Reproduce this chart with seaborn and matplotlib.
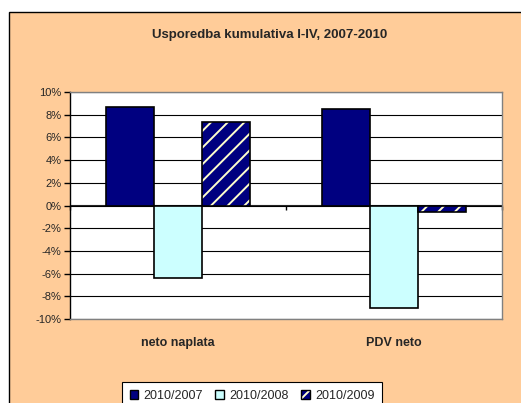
import pandas as pd
import seaborn as sns
import matplotlib.pyplot as plt
from matplotlib.patches import Rectangle, Patch
from matplotlib.legend_handler import HandlerTuple

# podaci
categories = ['neto naplata', 'PDV neto']
series = ['2010/2007', '2010/2008', '2010/2009']
v_2007 = [8.7, 8.5]
v_2008 = [-6.4, -9.0]
v_2009 = [7.4, -0.6]
yticks = [-10, -8, -6, -4, -2, 0, 2, 4, 6, 8, 10]
title = 'Usporedba kumulativa I-IV, 2007-2010'

sns.set_style('white')
plt.rcParams['font.family'] = ['Liberation Sans', 'DejaVu Sans']
plt.rcParams['hatch.linewidth'] = 1.4

df = pd.DataFrame({
    'kategorija': categories * 3,
    'serija': [s for s in series for _ in categories],
    'vrijednost': v_2007 + v_2008 + v_2009,
})

NAVY = '#000080'
CYAN = '#CCFFFF'
STRIPE = '#FFFFCC'

fig = plt.figure(figsize=(5.21, 4.03), dpi=100, facecolor='white')
fig.patches.append(Rectangle((9 / 521, -0.1), 1.2, 1 - 12 / 403 + 0.1,
                             transform=fig.transFigure, facecolor='#FFCC99',
                             edgecolor='black', linewidth=1, zorder=-5))

ax = fig.add_axes([70 / 521, 1 - 319 / 403, 432 / 521, 227 / 403])
ax.set_facecolor('white')
palette = {series[0]: NAVY, series[1]: CYAN, series[2]: NAVY}
sns.barplot(data=df, x='kategorija', y='vrijednost', hue='serija',
            order=categories, hue_order=series, palette=palette,
            width=2 / 3, gap=0, edgecolor='black', linewidth=1.2,
            saturation=1, legend=False, ax=ax, zorder=3)

# treca serija: pruge
for bar in ax.containers[2]:
    bar.set_hatch('//')
    bar.set_edgecolor(STRIPE)
    bar.set_linewidth(0)
    ax.add_patch(Rectangle(bar.get_xy(), bar.get_width(), bar.get_height(),
                           fill=False, edgecolor='black', linewidth=1.2, zorder=4))

ax.set_ylim(-10, 10)
ax.set_yticks(yticks, [f'{v}%' for v in yticks])
ax.grid(axis='y', color='black', linewidth=0.8)
ax.set_axisbelow(True)
ax.tick_params(axis='y', direction='out', length=4, width=1, color='black',
               labelsize=8, pad=2, left=True)
ax.tick_params(axis='x', length=0, labelsize=9, pad=13)
for lbl in ax.get_xticklabels():
    lbl.set_fontweight('bold')
ax.set_xlabel('')
ax.set_ylabel('')
for side in ['top', 'right', 'bottom']:
    ax.spines[side].set_color('#808080')
    ax.spines[side].set_linewidth(1)
ax.spines['left'].set_color('black')
ax.spines['left'].set_linewidth(1)

# os x na nuli
sec = ax.secondary_xaxis(0.5)
sec.set_xticks([-0.5, 0.5, 1.5], ['', '', ''])
sec.xaxis.set_ticks_position('bottom')
sec.tick_params(direction='out', length=3, width=1, color='black',
                labelbottom=False, labeltop=False)
sec.spines['bottom'].set_color('black')
sec.spines['bottom'].set_linewidth(1)

fig.text(270 / 521, 1 - 35 / 403, title, ha='center', va='center',
         fontsize=9.5, fontweight='bold')

handles = [Patch(facecolor=NAVY, edgecolor='black'),
           Patch(facecolor=CYAN, edgecolor='black'),
           (Patch(facecolor=NAVY, edgecolor=STRIPE, hatch='//', linewidth=0),
            Patch(fill=False, edgecolor='black'))]
leg = fig.legend(handles, series, loc='upper center',
                 bbox_to_anchor=(252 / 521, 1 - 376 / 403), ncol=3,
                 frameon=True, fancybox=False, edgecolor='black', framealpha=1,
                 fontsize=9, handlelength=0.7, handleheight=0.7,
                 handletextpad=0.4, columnspacing=1.0, borderpad=0.6,
                 handler_map={tuple: HandlerTuple(ndivide=1, pad=0)})
leg.get_frame().set_linewidth(0.8)

fig.savefig('out.png', dpi=100, facecolor=fig.get_facecolor())
